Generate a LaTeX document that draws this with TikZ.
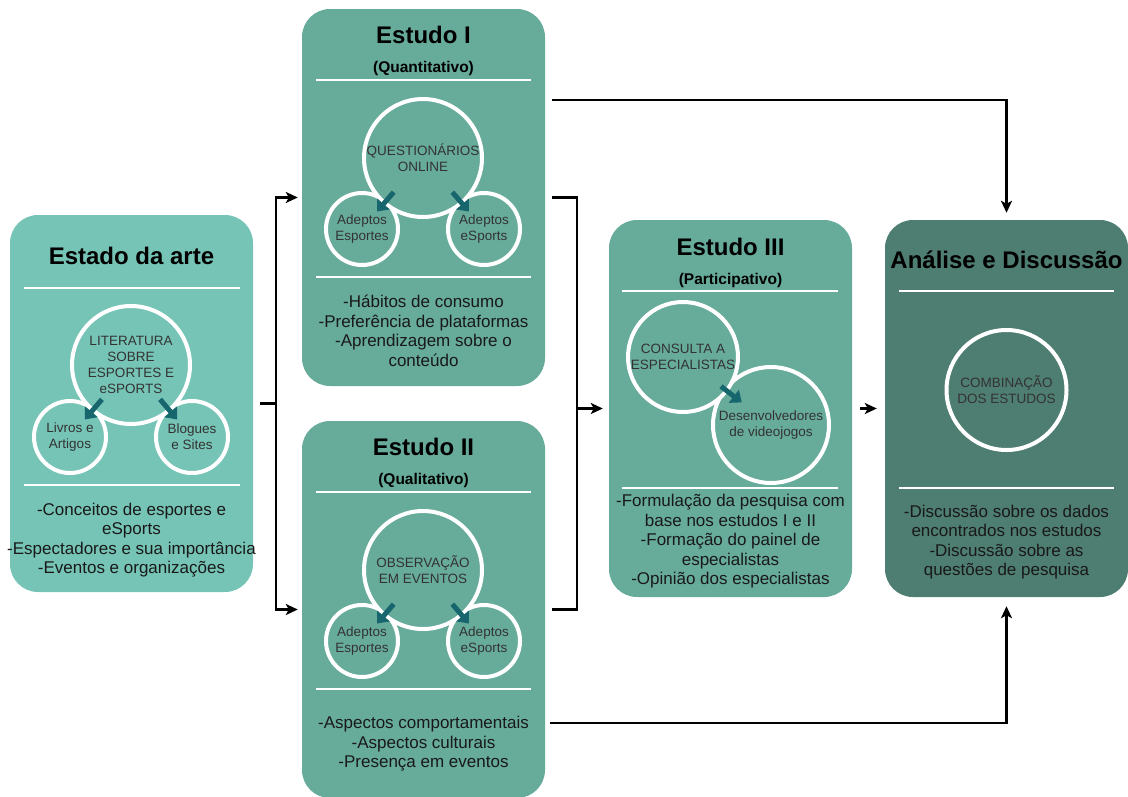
\documentclass[tikz,border=0pt]{standalone}
\usepackage{fontspec}
\setmainfont{Liberation Sans}
\usetikzlibrary{arrows.meta}

\definecolor{estadocol}{HTML}{76C4B6}
\definecolor{estudocol}{HTML}{67AB9B}
\definecolor{analisecol}{HTML}{4E7D71}
\definecolor{pointcol}{HTML}{17666D}
\definecolor{ringtext}{HTML}{333333}

\tikzset{
  panel/.style={rounded corners=28pt, minimum width=243pt, minimum height=377pt, inner sep=0pt},
  ring/.style={circle, draw=white, line width=4pt, inner sep=0pt, align=center, text=ringtext, font=\fontsize{13.5}{16}\selectfont},
  sep/.style={white, line width=1.5pt},
  ptitle/.style={font=\fontsize{24}{28}\selectfont\bfseries},
  psub/.style={font=\fontsize{15.5}{18}\selectfont\bfseries},
  body/.style={align=center, font=\fontsize{17}{19.5}\selectfont, text=black!90},
  conn/.style={line width=2.2pt},
  pointer/.style={pointcol, line width=5pt, -{Triangle[length=10pt,width=16pt]}},
  >={Stealth[length=12pt,width=11pt,inset=3pt]},
}

\begin{document}
\begin{tikzpicture}[x=1pt, y=-1pt]
\useasboundingbox (0,0) rectangle (1128,796);

% panels
\node[panel, fill=estadocol] (est) at (131.5,403.5) {};
\node[panel, fill=estudocol] (estI) at (423.5,197.5) {};
\node[panel, fill=estudocol] (estII) at (423.5,609.5) {};
\node[panel, fill=estudocol] (estIII) at (730.5,408.5) {};
\node[panel, fill=analisecol] (ana) at (1006.5,408.5) {};

% titles
\node[ptitle] (estT) at (131.5,256) {Estado da arte};
\node[ptitle] (estIT) at (423.5,35) {Estudo I};
\node[psub] (estIS) at (423.5,68) {(Quantitativo)};
\node[ptitle] (estIIT) at (423.5,447) {Estudo II};
\node[psub] (estIIS) at (423.5,480) {(Qualitativo)};
\node[ptitle] (estIIIT) at (730.5,247) {Estudo III};
\node[psub] (estIIIS) at (730.5,280) {(Participativo)};
\node[ptitle] (anaT) at (1006.5,260) {Análise e Discussão};

% separators
\draw[sep] (24,288) -- (240,288);
\draw[sep] (24,485) -- (240,485);
\draw[sep] (316,80) -- (531,80);
\draw[sep] (316,277) -- (531,277);
\draw[sep] (316,492) -- (531,492);
\draw[sep] (316,689) -- (531,689);
\draw[sep] (622,291) -- (838,291);
\draw[sep] (622,488) -- (838,488);
\draw[sep] (899,291) -- (1114,291);
\draw[sep] (899,488) -- (1114,488);

% estado da arte
\node[ring, fill=estadocol, minimum size=72] (livros) at (70,437) {Livros e\\Artigos};
\node[ring, fill=estadocol, minimum size=72] (blogues) at (192,437) {Blogues\\e Sites};
\node[ring, fill=estadocol, minimum size=118] (lit) at (131,365) {LITERATURA\\SOBRE\\ESPORTES E\\eSPORTS};
\draw[pointer, shorten <=45pt, shorten >=23pt] (lit.center) -- (livros.center);
\draw[pointer, shorten <=45pt, shorten >=23pt] (lit.center) -- (blogues.center);

% estudo I
\node[ring, fill=estudocol, minimum size=72] (adepI) at (362,229) {Adeptos\\Esportes};
\node[ring, fill=estudocol, minimum size=72] (adepIe) at (484,229) {Adeptos\\eSports};
\node[ring, fill=estudocol, minimum size=118] (quest) at (423,158) {QUESTIONÁRIOS\\ONLINE};
\draw[pointer, shorten <=45pt, shorten >=23pt] (quest.center) -- (adepI.center);
\draw[pointer, shorten <=45pt, shorten >=23pt] (quest.center) -- (adepIe.center);

% estudo II
\node[ring, fill=estudocol, minimum size=72] (adepII) at (362,641) {Adeptos\\Esportes};
\node[ring, fill=estudocol, minimum size=72] (adepIIe) at (484,641) {Adeptos\\eSports};
\node[ring, fill=estudocol, minimum size=118] (obs) at (423,570) {OBSERVAÇÃO\\EM EVENTOS};
\draw[pointer, shorten <=45pt, shorten >=23pt] (obs.center) -- (adepII.center);
\draw[pointer, shorten <=45pt, shorten >=23pt] (obs.center) -- (adepIIe.center);

% estudo III
\node[ring, fill=estudocol, minimum size=116] (dev) at (771,425) {Desenvolvedores\\de videojogos};
\node[ring, fill=estudocol, minimum size=110] (cons) at (683,357) {CONSULTA A\\ESPECIALISTAS};
\draw[pointer, shorten <=48pt, shorten >=37pt] (cons.center) -- (dev.center);

% analise
\node[ring, fill=analisecol, minimum size=120] (comb) at (1006.5,390) {COMBINAÇÃO\\DOS ESTUDOS};

% bullet texts
\node[body] (estB) at (131.5,540) {-Conceitos de esportes e\\eSports\\-Espectadores e sua importância\\-Eventos e organizações};
\node[body] (estIB) at (423.5,331) {-Hábitos de consumo\\-Preferência de plataformas\\-Aprendizagem sobre o\\conteúdo};
\node[body] (estIIB) at (423.5,744) {-Aspectos comportamentais\\-Aspectos culturais\\-Presença em eventos};
\node[body] (estIIIB) at (730.5,541.5) {-Formulação da pesquisa com\\base nos estudos I e II\\-Formação do painel de\\especialistas\\-Opinião dos especialistas};
\node[body] (anaB) at (1006.5,542) {-Discussão sobre os dados\\encontrados nos estudos\\-Discussão sobre as\\questões de pesquisa};

% connectors
\coordinate (fork) at (276,403.5);
\draw[conn] ([xshift=7pt]est.east) -- (fork);
\draw[conn, <->] ([xshift=-4pt]estI.west) -| (fork) |- ([xshift=-4pt]estII.west);
\coordinate (merge) at (577,408.5);
\draw[conn] ([xshift=7pt]estI.east) -| (merge) |- ([xshift=7pt]estII.east);
\draw[conn, ->] (merge) -- ([xshift=-6pt]estIII.west);
\draw[conn, ->] ([xshift=8pt]estIII.east) -- ([xshift=-8pt]ana.west);
\coordinate (topI) at (552,100);
\draw[conn, ->] (topI) -| ([yshift=7pt]ana.north);
\coordinate (botII) at (550,723);
\draw[conn, ->] (botII) -| ([yshift=-9pt]ana.south);
\end{tikzpicture}
\end{document}
